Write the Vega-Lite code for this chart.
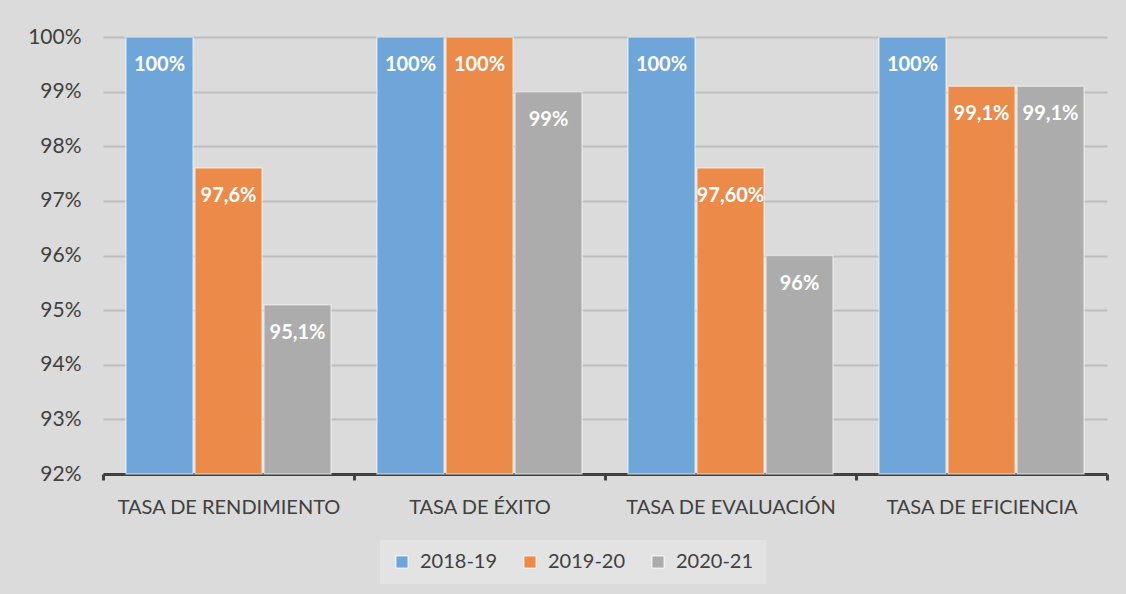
{
  "$schema": "https://vega.github.io/schema/vega-lite/v6.json",
  "width": 1004,
  "height": 437,
  "autosize": {"type": "none"},
  "padding": {"left": 103, "top": 37, "right": 19, "bottom": 120},
  "background": "#DBDBDB",
  "config": {
    "view": {"stroke": null},
    "font": "Lato",
    "axis": {"labelFont": "Lato", "labelColor": "#404040", "labelFontWeight": "normal"}
  },
  "data": {
    "values": [
      {"tasa": "TASA DE RENDIMIENTO", "curso": "2018-19", "valor": 100, "etiqueta": "100%"},
      {"tasa": "TASA DE RENDIMIENTO", "curso": "2019-20", "valor": 97.6, "etiqueta": "97,6%"},
      {"tasa": "TASA DE RENDIMIENTO", "curso": "2020-21", "valor": 95.1, "etiqueta": "95,1%"},
      {"tasa": "TASA DE ÉXITO", "curso": "2018-19", "valor": 100, "etiqueta": "100%"},
      {"tasa": "TASA DE ÉXITO", "curso": "2019-20", "valor": 100, "etiqueta": "100%"},
      {"tasa": "TASA DE ÉXITO", "curso": "2020-21", "valor": 99, "etiqueta": "99%"},
      {"tasa": "TASA DE EVALUACIÓN", "curso": "2018-19", "valor": 100, "etiqueta": "100%"},
      {"tasa": "TASA DE EVALUACIÓN", "curso": "2019-20", "valor": 97.6, "etiqueta": "97,60%"},
      {"tasa": "TASA DE EVALUACIÓN", "curso": "2020-21", "valor": 96, "etiqueta": "96%"},
      {"tasa": "TASA DE EFICIENCIA", "curso": "2018-19", "valor": 100, "etiqueta": "100%"},
      {"tasa": "TASA DE EFICIENCIA", "curso": "2019-20", "valor": 99.1, "etiqueta": "99,1%"},
      {"tasa": "TASA DE EFICIENCIA", "curso": "2020-21", "valor": 99.1, "etiqueta": "99,1%"}
    ]
  },
  "encoding": {
    "x": {
      "field": "tasa", "type": "nominal", "sort": null, "title": null,
      "scale": {"paddingInner": 0, "paddingOuter": 0},
      "axis": {
        "labelAngle": 0, "labelPadding": 17, "domainColor": "#404040", "domainWidth": 3,
        "tickBand": "extent", "tickColor": "#404040", "tickWidth": 3, "tickSize": 6,
        "labelFontSize": 20, "labelLimit": 0
      }
    },
    "xOffset": {"field": "curso", "type": "nominal", "sort": null, "scale": {"paddingInner": 0.029, "paddingOuter": 0.333}},
    "y": {
      "field": "valor", "type": "quantitative", "title": null,
      "scale": {"domain": [92, 100], "zero": false, "nice": false},
      "axis": {
        "values": [92, 93, 94, 95, 96, 97, 98, 99, 100],
        "labelExpr": "datum.value + '%'", "domain": false, "ticks": false,
        "labelPadding": 22, "labelFontSize": 21, "gridColor": "#BDBDBD", "gridWidth": 2
      }
    }
  },
  "layer": [
    {
      "mark": {"type": "bar", "stroke": "#FFFFFF", "strokeOpacity": 0.5, "strokeWidth": 1.5},
      "encoding": {
        "y2": {"datum": 92},
        "color": {
          "field": "curso", "type": "nominal", "sort": null, "title": null,
          "scale": {"domain": ["2018-19", "2019-20", "2020-21"], "range": ["#6EA6D9", "#EB8A49", "#ACACAC"]},
          "legend": {
            "orient": "none", "legendX": 277, "legendY": 503, "direction": "horizontal",
            "symbolType": "square", "symbolSize": 150,
            "symbolStrokeColor": "#FFFFFF", "symbolStrokeWidth": 1,
            "labelFontSize": 20, "labelColor": "#404040", "labelFont": "Lato", "columnPadding": 22,
            "fillColor": "#E3E3E3", "padding": 12, "labelOffset": 8
          }
        }
      }
    },
    {
      "mark": {"type": "text", "color": "#FFFFFF", "fontWeight": "bold", "fontSize": 20, "baseline": "middle", "dy": 28, "font": "Lato"},
      "encoding": {"text": {"field": "etiqueta"}}
    }
  ]
}
